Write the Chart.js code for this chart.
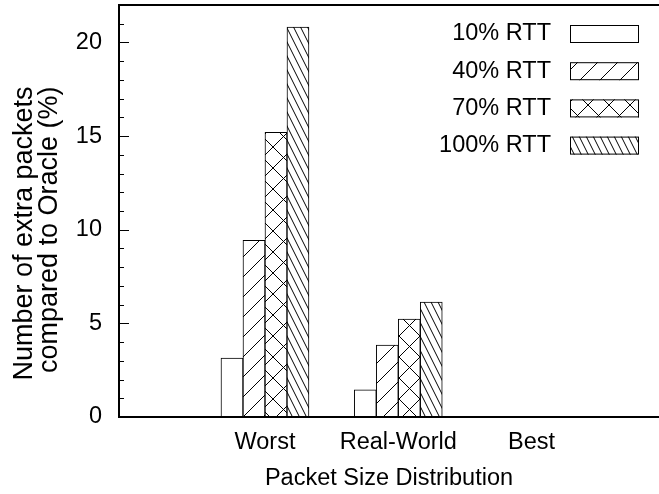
<!DOCTYPE html>
<html>
<head>
<meta charset="utf-8">
<script src="https://cdn.jsdelivr.net/npm/chart.js@4.4.1/dist/chart.umd.min.js"></script>
<style>
  html, body { margin: 0; padding: 0; background: #fff; }
  #wrap { width: 659px; height: 494px; }
</style>
</head>
<body>
<div id="wrap"><canvas id="grafico"></canvas></div>
<script>
const categorias = ['Worst', 'Real-World', 'Best'];
const series = ['10% RTT', '40% RTT', '70% RTT', '100% RTT'];
const rtt10 = [3.14, 1.45, 0];
const rtt40 = [9.44, 3.84, 0];
const rtt70 = [15.2, 5.23, 0];
const rtt100 = [20.82, 6.14, 0];
const yTicks = [0, 5, 10, 15, 20];

const fonte = "'Liberation Sans', Arial, Helvetica, sans-serif";
const tam = 23.5;
const esp = n => '\u00a0'.repeat(n);

// hachuras no estilo do gnuplot
function padrao(tipo) {
    let w = 20, h = 20;
    if (tipo === 'cruz') { w = 21; h = 21; }
    if (tipo === 'densa') { w = 7; h = 14; }
    const c = document.createElement('canvas');
    c.width = w; c.height = h;
    const g = c.getContext('2d');
    g.fillStyle = '#fff';
    g.fillRect(0, 0, w, h);
    if (tipo === 'vazio') return g.createPattern(c, 'repeat');
    g.strokeStyle = '#000';
    g.lineWidth = 1;
    g.beginPath();
    const barra = () => {
        for (const dx of [-w, 0, w]) {
            g.moveTo(dx, h); g.lineTo(dx + w, 0);
        }
    };
    const contra = () => {
        for (const dx of [-w, 0, w]) {
            g.moveTo(dx, 0); g.lineTo(dx + w, h);
        }
    };
    if (tipo === 'barra') barra();
    if (tipo === 'cruz') { barra(); contra(); }
    if (tipo === 'densa') contra();
    g.stroke();
    return g.createPattern(c, 'repeat');
}

const preenchimentos = [padrao('vazio'), padrao('barra'), padrao('cruz'), padrao('densa')];
const valores = [rtt10, rtt40, rtt70, rtt100];

const datasets = series.map((nome, i) => ({
    label: nome,
    data: valores[i].map((v, k) => ({ x: k, y: v })),
    backgroundColor: preenchimentos[i],
    borderColor: '#000',
    borderWidth: 1,
    borderSkipped: false,
    barThickness: 22
}));

// moldura, ticks internos e legenda do gnuplot
const molduraPlugin = {
    id: 'moldura',
    afterDatasetsDraw(chart) {
        const { ctx, chartArea: a, scales: { y } } = chart;
        ctx.save();
        ctx.strokeStyle = '#000';
        ctx.lineWidth = 1;
        ctx.beginPath();
        for (let v = 1; v <= 21; v++) {
            const py = Math.round(y.getPixelForValue(v)) + 0.5;
            const len = v % 5 === 0 ? 10 : 5;
            ctx.moveTo(a.left, py);
            ctx.lineTo(a.left + len, py);
        }
        ctx.stroke();
        ctx.lineWidth = 2;
        ctx.beginPath();
        ctx.moveTo(a.right + 2, a.top);
        ctx.lineTo(a.left, a.top);
        ctx.lineTo(a.left, a.bottom);
        ctx.lineTo(a.right + 2, a.bottom);
        ctx.stroke();

        ctx.font = tam + 'px ' + fonte;
        ctx.fillStyle = '#000';
        ctx.textAlign = 'right';
        ctx.textBaseline = 'middle';
        chart.data.datasets.forEach((ds, i) => {
            const ty = 34 + i * 37.2;
            ctx.fillText(ds.label, 551, ty);
            ctx.fillStyle = ds.backgroundColor;
            ctx.fillRect(570, ty - 9, 69, 18);
            ctx.lineWidth = 1;
            ctx.strokeRect(570.5, ty - 8.5, 68, 17);
            ctx.fillStyle = '#000';
        });
        ctx.restore();
    }
};

new Chart(document.getElementById('grafico').getContext('2d'), {
    type: 'bar',
    data: { datasets: datasets },
    options: {
        responsive: true,
        maintainAspectRatio: false,
        animation: false,
        layout: { padding: { top: 5, right: 0, left: 0, bottom: 0 } },
        plugins: {
            legend: { display: false },
            tooltip: { enabled: false }
        },
        scales: {
            x: {
                type: 'linear',
                offset: false,
                min: -1.095,
                max: 2.956,
                grid: { display: false, drawTicks: false, offset: false },
                border: { display: false },
                afterBuildTicks: scale => { scale.ticks = categorias.map((c, k) => ({ value: k })); },
                afterFit: scale => {
                    scale.height = 77;
                    scale.paddingLeft = 0;
                    scale.paddingRight = 0;
                },
                ticks: {
                    color: '#000',
                    padding: 11,
                    font: { family: fonte, size: tam },
                    callback: v => categorias[v]
                },
                title: {
                    display: true,
                    text: 'Packet Size Distribution',
                    color: '#000',
                    font: { family: fonte, size: tam, lineHeight: 1 },
                    padding: { top: 0, bottom: 4 }
                }
            },
            y: {
                min: 0,
                max: 22,
                grid: { display: false, drawTicks: false },
                border: { display: false },
                afterBuildTicks: scale => { scale.ticks = yTicks.map(v => ({ value: v })); },
                afterFit: scale => {
                    scale.width = 119;
                    scale.paddingTop = 0;
                    scale.paddingBottom = 0;
                },
                ticks: {
                    color: '#000',
                    padding: 17,
                    font: { family: fonte, size: tam }
                },
                title: {
                    display: true,
                    text: ['Number of extra packets' + esp(6), 'compared to Oracle (%)' + esp(5)],
                    color: '#000',
                    font: { family: fonte, size: 27, lineHeight: 0.93 },
                    padding: { top: 12, bottom: 0 }
                }
            }
        }
    },
    plugins: [molduraPlugin]
});
</script>
</body>
</html>
